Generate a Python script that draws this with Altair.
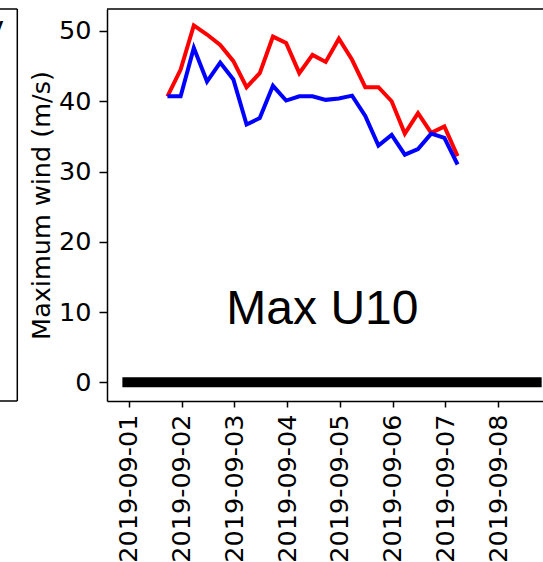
import altair as alt
import pandas as pd

# ---- data ----
times = [
    "2019-09-01T17:30:00", "2019-09-01T23:30:00",
    "2019-09-02T05:30:00", "2019-09-02T11:30:00", "2019-09-02T17:30:00", "2019-09-02T23:30:00",
    "2019-09-03T05:30:00", "2019-09-03T11:30:00", "2019-09-03T17:30:00", "2019-09-03T23:30:00",
    "2019-09-04T05:30:00", "2019-09-04T11:30:00", "2019-09-04T17:30:00", "2019-09-04T23:30:00",
    "2019-09-05T05:30:00", "2019-09-05T11:30:00", "2019-09-05T17:30:00", "2019-09-05T23:30:00",
    "2019-09-06T05:30:00", "2019-09-06T11:30:00", "2019-09-06T17:30:00", "2019-09-06T23:30:00",
    "2019-09-07T05:30:00",
]
red_vals = [40.7, 44.5, 50.8, 49.5, 48.0, 45.7, 42.0, 44.0, 49.2, 48.3, 44.0, 46.6,
            45.6, 48.9, 45.9, 42.0, 42.0, 40.0, 35.4, 38.3, 35.5, 36.4, 32.2]
blue_vals = [40.7, 40.7, 47.6, 42.8, 45.5, 43.1, 36.7, 37.6, 42.2, 40.1, 40.7, 40.7,
             40.2, 40.4, 40.8, 37.9, 33.7, 35.2, 32.4, 33.2, 35.4, 34.8, 31.0]

zero_times = ["2019-08-31T21:00:00", "2019-09-08T19:45:00"]
zero_vals = [0, 0]

tick_days = [1, 2, 3, 4, 5, 6, 7, 8]
y_ticks = [0, 10, 20, 30, 40, 50]

label_text = ["Max U10"]
label_time = ["2019-09-04T16:00:00"]
label_y = [8.25]

# ---- tables ----
red_df = pd.DataFrame({"time": times, "wind": red_vals})
blue_df = pd.DataFrame({"time": times, "wind": blue_vals})
zero_df = pd.DataFrame({"time": zero_times, "wind": zero_vals})
label_df = pd.DataFrame({"time": label_time, "wind": label_y, "text": label_text})
one = pd.DataFrame({"a": [0]})
frag = pd.DataFrame({"t": ["V"]})

W, H = 436, 392
FONT = "DejaVu Sans"
FS = 25.5

x_scale = alt.Scale(
    domain=[alt.DateTime(year=2019, month=8, date=31, hours=14),
            alt.DateTime(year=2019, month=9, date=8, hours=20, minutes=22)],
    nice=False,
)
y_scale = alt.Scale(domain=[-2.66, 53.13], nice=False, zero=False)

x_axis = alt.Axis(
    values=[alt.DateTime(year=2019, month=9, date=d) for d in tick_days],
    format="%Y-%m-%d", labelAngle=270, labelAlign="right", labelBaseline="middle",
    labelFontSize=FS, labelFont=FONT, labelColor="black", labelPadding=7,
    tickSize=6, tickWidth=1.5, tickColor="black",
    domainColor="black", domainWidth=1.5, grid=False, title=None,
    labelOverlap=False, labelFlush=False, labelBound=False,
)
y_axis = alt.Axis(
    values=y_ticks, labelFontSize=FS, labelFont=FONT, labelColor="black",
    labelPadding=8, tickSize=8, tickWidth=1.5, tickColor="black",
    domainColor="black", domainWidth=1.5, grid=False,
    title="Maximum wind (m/s)", titleFont=FONT, titleFontSize=FS,
    titleFontWeight="normal", titleColor="black", titlePadding=4,
    labelFlush=False,
)

X = alt.X("time:T", scale=x_scale, axis=x_axis)
Y = alt.Y("wind:Q", scale=y_scale, axis=y_axis)

zero_line = alt.Chart(zero_df).mark_line(color="black", strokeWidth=10, strokeCap="butt").encode(
    x=X, y=Y
)
red_line = alt.Chart(red_df).mark_line(color="#ff0000", strokeWidth=4).encode(x=X, y=Y)
blue_line = alt.Chart(blue_df).mark_line(color="#0000ff", strokeWidth=4).encode(x=X, y=Y)
label = alt.Chart(label_df).mark_text(
    font="Liberation Sans", fontSize=48, align="center", baseline="alphabetic", color="black"
).encode(x=X, y=Y, text="text:N")

# frame pieces (top border of this panel, edge of the neighbouring panel on the left)
top_border = alt.Chart(one).mark_rule(color="black", strokeWidth=1.5).encode(
    x=alt.value(0), x2=alt.value(W), y=alt.value(0)
)
left_panel_edge = alt.Chart(one).mark_rule(color="black", strokeWidth=1.5).encode(
    x=alt.value(-89.7), y=alt.value(0), y2=alt.value(H)
)
left_panel_top = alt.Chart(one).mark_rule(color="black", strokeWidth=1.5).encode(
    x=alt.value(-108), x2=alt.value(-89.7), y=alt.value(0)
)
left_panel_bottom = alt.Chart(one).mark_rule(color="black", strokeWidth=1.5).encode(
    x=alt.value(-108), x2=alt.value(-89.7), y=alt.value(H)
)
left_panel_glyph = alt.Chart(frag).mark_text(
    font=FONT, fontSize=28, align="right", baseline="alphabetic", color="black"
).encode(x=alt.value(-103.5), y=alt.value(33), text="t:N")

chart = alt.layer(
    zero_line, red_line, blue_line, label,
    top_border, left_panel_edge, left_panel_top, left_panel_bottom, left_panel_glyph,
).properties(
    width=W, height=H,
    autosize=alt.AutoSizeParams(type="none"),
    padding={"left": 107, "top": 9, "right": 0, "bottom": 161},
    background="white",
).configure_view(stroke="transparent")

chart.save("out.html", embed_options={"renderer": "svg", "actions": False})
